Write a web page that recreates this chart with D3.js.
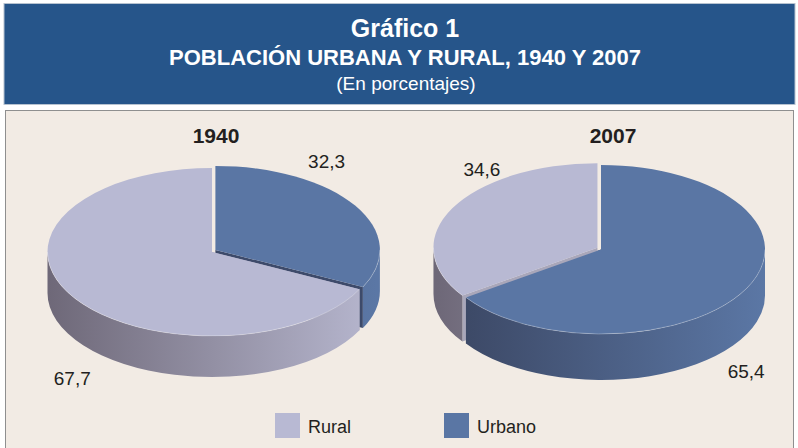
<!DOCTYPE html>
<html lang="es">
<head>
<meta charset="utf-8">
<title>Gráfico 1</title>
<script src="https://cdn.jsdelivr.net/npm/d3@7"></script>
<style>
  body { margin: 0; background: #fff; }
  text { font-family: "Liberation Sans", Arial, sans-serif; }
</style>
</head>
<body>
<svg width="798" height="448"></svg>
<script>
// datos
var years = ["1940", "2007"];
var categories = ["Urbano", "Rural"];
var urbano = [32.3, 65.4];
var rural = [67.7, 34.6];
var legendOrder = ["Rural", "Urbano"];

var colors = {
  Rural:  { top: "#b8b9d3", dark: "#6e6878", light: "#b7b7cf", face: "#a9a7ba" },
  Urbano: { top: "#5a76a4", dark: "#3a4561", light: "#5b77a5", face: "#3d4a6a" }
};

// geometria de cada torta
var pies = [
  { cx: 212, cy: 252, rx: 164.5, ry: 84, depth: 41, titleX: 216 },
  { cx: 601, cy: 249.5, rx: 164, ry: 84.5, depth: 46, titleX: 613 }
];
var explode = 4;

var fmt = d3.formatLocale({ decimal: ",", thousands: ".", grouping: [3], currency: ["", ""] }).format(".1f");

var svg = d3.select("svg");
var defs = svg.append("defs");

// encabezado
svg.append("rect").attr("x", 4).attr("y", 3.5).attr("width", 791).attr("height", 101)
  .attr("fill", "#26558a").attr("stroke", "#b6c2d0").attr("stroke-width", 1);
svg.append("text").attr("x", 405).attr("y", 37).attr("text-anchor", "middle")
  .attr("fill", "#fff").attr("font-weight", "bold").attr("font-size", 25).text("Gráfico 1");
svg.append("text").attr("x", 405).attr("y", 65).attr("text-anchor", "middle")
  .attr("fill", "#fff").attr("font-weight", "bold").attr("font-size", 22)
  .text("POBLACIÓN URBANA Y RURAL, 1940 Y 2007");
svg.append("text").attr("x", 406).attr("y", 90).attr("text-anchor", "middle")
  .attr("fill", "#fff").attr("font-size", 19).text("(En porcentajes)");

// panel
svg.append("rect").attr("x", 5.5).attr("y", 110.5).attr("width", 788).attr("height", 345)
  .attr("fill", "#f2ebe4").attr("stroke", "#8f8f8f").attr("stroke-width", 1);

var pie = d3.pie().sort(null).startAngle(0).endAngle(2 * Math.PI);

years.forEach(function(year, yi) {
  var p = pies[yi];
  var values = [urbano[yi], rural[yi]];
  var arcs = pie(values);
  var smallest = d3.minIndex(values);

  // degradados para las paredes
  categories.forEach(function(cat) {
    var gr = defs.append("linearGradient")
      .attr("id", "g" + yi + cat)
      .attr("gradientUnits", "userSpaceOnUse")
      .attr("x1", p.cx - p.rx).attr("x2", p.cx + p.rx)
      .attr("y1", 0).attr("y2", 0);
    gr.append("stop").attr("offset", "0%").attr("stop-color", colors[cat].dark);
    gr.append("stop").attr("offset", "100%").attr("stop-color", colors[cat].light);
  });

  var slices = arcs.map(function(a, i) {
    var mid = (a.startAngle + a.endAngle) / 2;
    var e = i === smallest ? explode : 0;
    return {
      cat: categories[i], value: a.value, a0: a.startAngle, a1: a.endAngle, mid: mid,
      dx: e * Math.sin(mid), dy: -e * Math.cos(mid)
    };
  });

  function pt(s, ang, dz) {
    return [p.cx + s.dx + p.rx * Math.sin(ang), p.cy + s.dy - p.ry * Math.cos(ang) + (dz || 0)];
  }

  var g = svg.append("g");

  // caras radiales
  slices.forEach(function(s) {
    [s.a0, s.a1].forEach(function(ang) {
      var c = [p.cx + s.dx, p.cy + s.dy];
      var q = pt(s, ang);
      var path = d3.path();
      path.moveTo(c[0], c[1]);
      path.lineTo(q[0], q[1]);
      path.lineTo(q[0], q[1] + p.depth);
      path.lineTo(c[0], c[1] + p.depth);
      path.closePath();
      g.append("path").attr("d", path.toString()).attr("fill", colors[s.cat].face);
    });
  });

  // paredes exteriores (mitad frontal)
  slices.forEach(function(s) {
    var a = Math.max(s.a0, Math.PI / 2), b = Math.min(s.a1, 3 * Math.PI / 2);
    if (b <= a) return;
    var p0 = pt(s, a), p1 = pt(s, b);
    var d = "M" + p0 + "A" + p.rx + "," + p.ry + " 0 0 1 " + p1 +
      "L" + p1[0] + "," + (p1[1] + p.depth) +
      "A" + p.rx + "," + p.ry + " 0 0 0 " + p0[0] + "," + (p0[1] + p.depth) + "Z";
    g.append("path").attr("d", d).attr("fill", "url(#g" + yi + s.cat + ")");
  });

  // caras superiores
  slices.forEach(function(s) {
    var p0 = pt(s, s.a0), p1 = pt(s, s.a1);
    var large = (s.a1 - s.a0) > Math.PI ? 1 : 0;
    var d = "M" + (p.cx + s.dx) + "," + (p.cy + s.dy) + "L" + p0 +
      "A" + p.rx + "," + p.ry + " 0 " + large + " 1 " + p1 + "Z";
    g.append("path").attr("d", d).attr("fill", colors[s.cat].top);

    var a = Math.max(s.a0, Math.PI / 2), b = Math.min(s.a1, 3 * Math.PI / 2);
    if (b > a) {
      var r0 = pt(s, a), r1 = pt(s, b);
      g.append("path").attr("d", "M" + r0 + "A" + p.rx + "," + p.ry + " 0 0 1 " + r1)
        .attr("fill", "none").attr("stroke", "rgba(255,255,255,0.35)").attr("stroke-width", 0.8);
    }
  });

  // etiquetas de valores
  slices.forEach(function(s) {
    var back = Math.cos(s.mid) > 0;
    var kx = back ? 0.82 : 1.0, ky = back ? 2.05 : 1.92;
    var x = p.cx + p.rx * kx * Math.sin(s.mid);
    var y = p.cy - p.ry * ky * Math.cos(s.mid) + (back ? 0 : p.depth);
    svg.append("text").attr("x", x).attr("y", y).attr("dy", "0.35em")
      .attr("text-anchor", "middle").attr("font-size", 19).attr("fill", "#231f20")
      .text(fmt(s.value));
  });

  // titulo del año
  svg.append("text").attr("x", p.titleX).attr("y", 143).attr("text-anchor", "middle")
    .attr("font-size", 21).attr("font-weight", "bold").attr("fill", "#231f20").text(year);
});

// leyenda
var legend = svg.append("g").selectAll("g").data(legendOrder).enter().append("g")
  .attr("transform", function(d, i) { return "translate(" + (275 + i * 169) + ",413)"; });
legend.append("rect").attr("width", 25).attr("height", 25)
  .attr("fill", function(d) { return colors[d].top; });
legend.append("text").attr("x", 33).attr("y", 19.5).attr("font-size", 18)
  .attr("fill", "#231f20").text(function(d) { return d; });
</script>
</body>
</html>
